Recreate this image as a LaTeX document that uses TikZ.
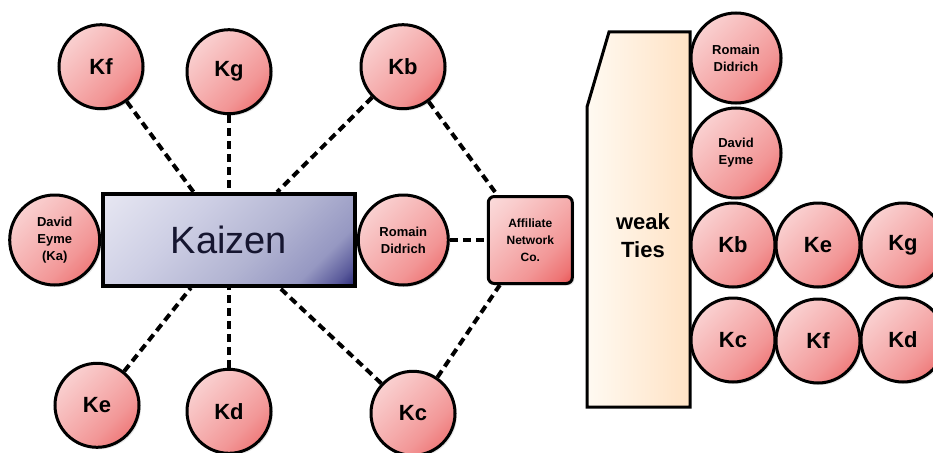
\documentclass[tikz,border=0pt]{standalone}
\usepackage{fontspec}
\setmainfont{Liberation Sans}
\usetikzlibrary{shapes,arrows,calc,positioning,shadows}

\definecolor{pinklight}{RGB}{252,228,228}
\definecolor{pinksoft}{RGB}{249,204,204}
\definecolor{pinkmid}{RGB}{245,172,172}
\definecolor{pinkwarm}{RGB}{242,150,150}
\definecolor{pinkred}{RGB}{238,116,116}
\definecolor{pinkdark}{RGB}{230,72,72}
\definecolor{kzlight}{RGB}{236,236,245}
\definecolor{kzpale}{RGB}{205,206,228}
\definecolor{kzmid}{RGB}{178,180,210}
\definecolor{kzlav}{RGB}{150,152,194}
\definecolor{kzdeep}{RGB}{90,90,155}
\definecolor{kzdark}{RGB}{26,26,108}
\definecolor{kztext}{RGB}{22,22,48}
\definecolor{tieslight}{RGB}{255,250,242}
\definecolor{tiesdark}{RGB}{255,226,196}

\pgfdeclareverticalshading{pkshade}{100bp}{color(0bp)=(pinkdark); color(12bp)=(pinkdark);
  color(22bp)=(pinkred); color(36bp)=(pinkwarm); color(50bp)=(pinkmid); color(72bp)=(pinksoft);
  color(92bp)=(pinklight); color(100bp)=(pinklight)}
\pgfdeclareverticalshading{kzshade}{100bp}{color(0bp)=(kzdark); color(13bp)=(kzdark);
  color(19bp)=(kzdeep); color(27bp)=(kzlav); color(42bp)=(kzmid); color(62bp)=(kzpale);
  color(90bp)=(kzlight); color(100bp)=(kzlight)}

\begin{document}
\begin{tikzpicture}[
    x=1pt,y=-1pt,node distance=0pt,
    kn/.style={circle,minimum size=84pt,inner sep=0pt,draw,line width=3pt,
      shade,shading=pkshade,shading angle=45,
      drop shadow={opacity=0.2,shadow xshift=2pt,shadow yshift=-2pt},
      font=\fontsize{22}{24}\selectfont\bfseries},
    pn/.style={kn,minimum size=90pt,align=center,font=\fontsize{13}{17}\selectfont\bfseries},
    kz/.style={rectangle,draw,line width=3.6pt,minimum width=252pt,minimum height=92pt,
      shade,shading=kzshade,shading angle=45,
      drop shadow={opacity=0.2,shadow xshift=2pt,shadow yshift=-2pt},
      text=kztext,font=\fontsize{38}{40}\selectfont},
    an/.style={rectangle,rounded corners=6pt,draw,line width=3pt,minimum width=84pt,minimum height=87pt,
      shade,shading=pkshade,shading angle=45,
      drop shadow={opacity=0.2,shadow xshift=2pt,shadow yshift=-2pt},
      align=center,font=\fontsize{12}{17}\selectfont\bfseries},
    ties/.style={draw,line width=3pt,left color=tieslight,right color=tiesdark},
    link/.style={line width=4pt,dash pattern=on 8pt off 5pt}]
    \path[use as bounding box,fill=white] (0,0) rectangle (933,452);

    % Kaizen and its ties
    \node[kz] (Kz) at (229,240) {Kaizen};
    \node[kn] (Kg) [above=77pt of Kz] {Kg};
    \node[kn] (Kd) [below=80pt of Kz] {Kd};
    \node[kn] (Kf) [left=41pt of Kg,yshift=5pt] {Kf};
    \node[kn] (Kb) [right=87pt of Kg,yshift=5pt] {Kb};
    \node[kn] (Ke) [left=45pt of Kd,yshift=6pt] {Ke};
    \node[kn] (Kc) [right=97pt of Kd,yshift=-2pt] {Kc};
    \node[pn] (DE) [left=0pt of Kz] {David\\Eyme\\(Ka)};
    \node[pn] (RD) [right=0pt of Kz] {Romain\\Didrich};
    \node[an] (AN) [right=37pt of RD] {Affiliate\\Network\\Co.};

    \draw[link] (Kf) -- (Kz);
    \draw[link] (Kg) -- (Kz);
    \draw[link] (Kb) -- (Kz);
    \draw[link] (Ke) -- (Kz);
    \draw[link] (Kd) -- (Kz);
    \draw[link] (Kc) -- (Kz);
    \draw[link] (Kb) -- (AN);
    \draw[link] (RD) -- (AN);
    \draw[link] (Kc) -- (AN);

    % weak ties
    \draw[ties] (587,107) -- (609,32) -- (690,32) -- (690,407) -- (587,407) -- cycle;
    \node[align=center,font=\fontsize{22}{28}\selectfont\bfseries] (Wt) at (643,236) {weak\\Ties};
    \node[pn] (RD2) at (736,58) {Romain\\Didrich};
    \node[pn] (DE2) [below=2pt of RD2] {David\\Eyme};
    \node[kn] (Kb2) [below=2pt of DE2,xshift=-3pt] {Kb};
    \node[kn] (Ke2) [right=-2pt of Kb2] {Ke};
    \node[kn] (Kg2) [right=-2pt of Ke2] {Kg};
    \node[kn] (Kc2) [below=8pt of Kb2] {Kc};
    \node[kn] (Kf2) [right=-2pt of Kc2,yshift=-1pt] {Kf};
    \node[kn] (Kd2) [right=-2pt of Kf2,yshift=1pt] {Kd};
\end{tikzpicture}
\end{document}
